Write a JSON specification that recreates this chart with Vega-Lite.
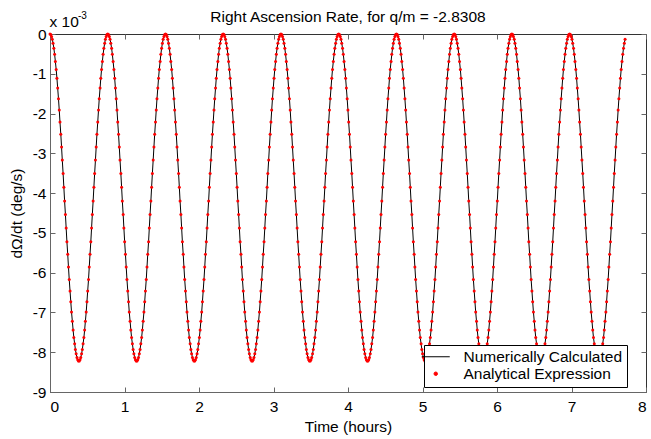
{
"$schema": "https://vega.github.io/schema/vega-lite/v6.json",
"width": 596,
"height": 358,
"autosize": {"type": "none"},
"padding": {"left": 50, "top": 34, "right": 5, "bottom": 47},
"background": "white",
"config": {
  "font": "Liberation Sans",
  "view": {"stroke": "#333333", "strokeWidth": 1},
  "axis": {"labelFont": "Liberation Sans", "labelFontSize": 15.5, "labelColor": "#000000", "titleFont": "Liberation Sans", "titleFontSize": 15.5, "titleFontWeight": "normal", "titleColor": "#000000", "domainColor": "#666666", "tickColor": "#666666", "tickSize": -5, "grid": false}
},
"title": {"text": "Right Ascension Rate, for q/m = -2.8308", "font": "Liberation Sans", "fontSize": 15.5, "fontWeight": "normal", "color": "#000000", "anchor": "middle", "baseline": "alphabetic", "offset": -26},
"resolve": {"axis": {"x": "independent", "y": "independent"}},
"data": {"values": [
{"t":0,"r":0},{"t":0.01,"r":-0.01},{"t":0.021,"r":-0.06},{"t":0.031,"r":-0.13},{"t":0.041,"r":-0.23},{"t":0.052,"r":-0.36},{"t":0.062,"r":-0.51},{"t":0.072,"r":-0.69},{"t":0.083,"r":-0.89},{"t":0.093,"r":-1.11},{"t":0.103,"r":-1.36},{"t":0.114,"r":-1.63},{"t":0.124,"r":-1.91},{"t":0.134,"r":-2.21},{"t":0.145,"r":-2.52},{"t":0.155,"r":-2.84},{"t":0.165,"r":-3.17},{"t":0.176,"r":-3.51},{"t":0.186,"r":-3.85},{"t":0.196,"r":-4.2},{"t":0.207,"r":-4.54},{"t":0.217,"r":-4.88},{"t":0.227,"r":-5.22},{"t":0.238,"r":-5.54},{"t":0.248,"r":-5.86},{"t":0.258,"r":-6.17},{"t":0.269,"r":-6.46},{"t":0.279,"r":-6.73},{"t":0.289,"r":-6.99},{"t":0.3,"r":-7.22},{"t":0.31,"r":-7.44},{"t":0.32,"r":-7.63},{"t":0.331,"r":-7.79},{"t":0.341,"r":-7.93},{"t":0.351,"r":-8.04},{"t":0.362,"r":-8.13},{"t":0.372,"r":-8.19},{"t":0.382,"r":-8.22},{"t":0.393,"r":-8.22},{"t":0.403,"r":-8.19},{"t":0.413,"r":-8.13},{"t":0.424,"r":-8.04},{"t":0.434,"r":-7.93},{"t":0.444,"r":-7.79},{"t":0.455,"r":-7.63},{"t":0.465,"r":-7.44},{"t":0.475,"r":-7.22},{"t":0.486,"r":-6.99},{"t":0.496,"r":-6.73},{"t":0.506,"r":-6.46},{"t":0.517,"r":-6.17},{"t":0.527,"r":-5.86},{"t":0.537,"r":-5.54},{"t":0.548,"r":-5.22},{"t":0.558,"r":-4.88},{"t":0.568,"r":-4.54},{"t":0.579,"r":-4.2},{"t":0.589,"r":-3.85},{"t":0.599,"r":-3.51},{"t":0.61,"r":-3.17},{"t":0.62,"r":-2.84},{"t":0.63,"r":-2.52},{"t":0.641,"r":-2.21},{"t":0.651,"r":-1.91},{"t":0.661,"r":-1.63},{"t":0.672,"r":-1.36},{"t":0.682,"r":-1.11},{"t":0.692,"r":-0.89},{"t":0.703,"r":-0.69},{"t":0.713,"r":-0.51},{"t":0.723,"r":-0.36},{"t":0.734,"r":-0.23},{"t":0.744,"r":-0.13},{"t":0.754,"r":-0.06},{"t":0.765,"r":-0.01},
{"t":0.775,"r":0},{"t":0.785,"r":-0.01},{"t":0.796,"r":-0.06},{"t":0.806,"r":-0.13},{"t":0.816,"r":-0.23},{"t":0.827,"r":-0.36},{"t":0.837,"r":-0.51},{"t":0.847,"r":-0.69},{"t":0.858,"r":-0.89},{"t":0.868,"r":-1.11},{"t":0.878,"r":-1.36},{"t":0.889,"r":-1.63},{"t":0.899,"r":-1.91},{"t":0.909,"r":-2.21},{"t":0.92,"r":-2.52},{"t":0.93,"r":-2.84},{"t":0.94,"r":-3.17},{"t":0.951,"r":-3.51},{"t":0.961,"r":-3.85},{"t":0.971,"r":-4.2},{"t":0.982,"r":-4.54},{"t":0.992,"r":-4.88},{"t":1.002,"r":-5.22},{"t":1.013,"r":-5.54},{"t":1.023,"r":-5.86},{"t":1.033,"r":-6.17},{"t":1.044,"r":-6.46},{"t":1.054,"r":-6.73},{"t":1.064,"r":-6.99},{"t":1.075,"r":-7.22},{"t":1.085,"r":-7.44},{"t":1.095,"r":-7.63},{"t":1.106,"r":-7.79},{"t":1.116,"r":-7.93},{"t":1.126,"r":-8.04},{"t":1.137,"r":-8.13},{"t":1.147,"r":-8.19},{"t":1.157,"r":-8.22},{"t":1.168,"r":-8.22},{"t":1.178,"r":-8.19},{"t":1.188,"r":-8.13},{"t":1.199,"r":-8.04},{"t":1.209,"r":-7.93},{"t":1.219,"r":-7.79},{"t":1.23,"r":-7.63},{"t":1.24,"r":-7.44},{"t":1.25,"r":-7.22},{"t":1.261,"r":-6.99},{"t":1.271,"r":-6.73},{"t":1.281,"r":-6.46},{"t":1.292,"r":-6.17},{"t":1.302,"r":-5.86},{"t":1.312,"r":-5.54},{"t":1.323,"r":-5.22},{"t":1.333,"r":-4.88},{"t":1.343,"r":-4.54},{"t":1.354,"r":-4.2},{"t":1.364,"r":-3.85},{"t":1.374,"r":-3.51},{"t":1.385,"r":-3.17},{"t":1.395,"r":-2.84},{"t":1.405,"r":-2.52},{"t":1.416,"r":-2.21},{"t":1.426,"r":-1.91},{"t":1.436,"r":-1.63},{"t":1.447,"r":-1.36},{"t":1.457,"r":-1.11},{"t":1.467,"r":-0.89},{"t":1.478,"r":-0.69},{"t":1.488,"r":-0.51},{"t":1.498,"r":-0.36},{"t":1.509,"r":-0.23},{"t":1.519,"r":-0.13},{"t":1.529,"r":-0.06},{"t":1.54,"r":-0.01},
{"t":1.55,"r":0},{"t":1.56,"r":-0.01},{"t":1.571,"r":-0.06},{"t":1.581,"r":-0.13},{"t":1.591,"r":-0.23},{"t":1.602,"r":-0.36},{"t":1.612,"r":-0.51},{"t":1.622,"r":-0.69},{"t":1.633,"r":-0.89},{"t":1.643,"r":-1.11},{"t":1.653,"r":-1.36},{"t":1.664,"r":-1.63},{"t":1.674,"r":-1.91},{"t":1.684,"r":-2.21},{"t":1.695,"r":-2.52},{"t":1.705,"r":-2.84},{"t":1.715,"r":-3.17},{"t":1.726,"r":-3.51},{"t":1.736,"r":-3.85},{"t":1.746,"r":-4.2},{"t":1.757,"r":-4.54},{"t":1.767,"r":-4.88},{"t":1.777,"r":-5.22},{"t":1.788,"r":-5.54},{"t":1.798,"r":-5.86},{"t":1.808,"r":-6.17},{"t":1.819,"r":-6.46},{"t":1.829,"r":-6.73},{"t":1.839,"r":-6.99},{"t":1.85,"r":-7.22},{"t":1.86,"r":-7.44},{"t":1.87,"r":-7.63},{"t":1.881,"r":-7.79},{"t":1.891,"r":-7.93},{"t":1.901,"r":-8.04},{"t":1.912,"r":-8.13},{"t":1.922,"r":-8.19},{"t":1.932,"r":-8.22},{"t":1.943,"r":-8.22},{"t":1.953,"r":-8.19},{"t":1.963,"r":-8.13},{"t":1.974,"r":-8.04},{"t":1.984,"r":-7.93},{"t":1.994,"r":-7.79},{"t":2.005,"r":-7.63},{"t":2.015,"r":-7.44},{"t":2.025,"r":-7.22},{"t":2.036,"r":-6.99},{"t":2.046,"r":-6.73},{"t":2.056,"r":-6.46},{"t":2.067,"r":-6.17},{"t":2.077,"r":-5.86},{"t":2.087,"r":-5.54},{"t":2.098,"r":-5.22},{"t":2.108,"r":-4.88},{"t":2.118,"r":-4.54},{"t":2.129,"r":-4.2},{"t":2.139,"r":-3.85},{"t":2.149,"r":-3.51},{"t":2.16,"r":-3.17},{"t":2.17,"r":-2.84},{"t":2.18,"r":-2.52},{"t":2.191,"r":-2.21},{"t":2.201,"r":-1.91},{"t":2.211,"r":-1.63},{"t":2.222,"r":-1.36},{"t":2.232,"r":-1.11},{"t":2.242,"r":-0.89},{"t":2.253,"r":-0.69},{"t":2.263,"r":-0.51},{"t":2.273,"r":-0.36},{"t":2.284,"r":-0.23},{"t":2.294,"r":-0.13},{"t":2.304,"r":-0.06},{"t":2.315,"r":-0.01},
{"t":2.325,"r":0},{"t":2.335,"r":-0.01},{"t":2.346,"r":-0.06},{"t":2.356,"r":-0.13},{"t":2.366,"r":-0.23},{"t":2.377,"r":-0.36},{"t":2.387,"r":-0.51},{"t":2.397,"r":-0.69},{"t":2.408,"r":-0.89},{"t":2.418,"r":-1.11},{"t":2.428,"r":-1.36},{"t":2.439,"r":-1.63},{"t":2.449,"r":-1.91},{"t":2.459,"r":-2.21},{"t":2.47,"r":-2.52},{"t":2.48,"r":-2.84},{"t":2.49,"r":-3.17},{"t":2.501,"r":-3.51},{"t":2.511,"r":-3.85},{"t":2.521,"r":-4.2},{"t":2.532,"r":-4.54},{"t":2.542,"r":-4.88},{"t":2.552,"r":-5.22},{"t":2.563,"r":-5.54},{"t":2.573,"r":-5.86},{"t":2.583,"r":-6.17},{"t":2.594,"r":-6.46},{"t":2.604,"r":-6.73},{"t":2.614,"r":-6.99},{"t":2.625,"r":-7.22},{"t":2.635,"r":-7.44},{"t":2.645,"r":-7.63},{"t":2.656,"r":-7.79},{"t":2.666,"r":-7.93},{"t":2.676,"r":-8.04},{"t":2.687,"r":-8.13},{"t":2.697,"r":-8.19},{"t":2.707,"r":-8.22},{"t":2.718,"r":-8.22},{"t":2.728,"r":-8.19},{"t":2.738,"r":-8.13},{"t":2.749,"r":-8.04},{"t":2.759,"r":-7.93},{"t":2.769,"r":-7.79},{"t":2.78,"r":-7.63},{"t":2.79,"r":-7.44},{"t":2.8,"r":-7.22},{"t":2.811,"r":-6.99},{"t":2.821,"r":-6.73},{"t":2.831,"r":-6.46},{"t":2.842,"r":-6.17},{"t":2.852,"r":-5.86},{"t":2.862,"r":-5.54},{"t":2.873,"r":-5.22},{"t":2.883,"r":-4.88},{"t":2.893,"r":-4.54},{"t":2.904,"r":-4.2},{"t":2.914,"r":-3.85},{"t":2.924,"r":-3.51},{"t":2.935,"r":-3.17},{"t":2.945,"r":-2.84},{"t":2.955,"r":-2.52},{"t":2.966,"r":-2.21},{"t":2.976,"r":-1.91},{"t":2.986,"r":-1.63},{"t":2.997,"r":-1.36},{"t":3.007,"r":-1.11},{"t":3.017,"r":-0.89},{"t":3.028,"r":-0.69},{"t":3.038,"r":-0.51},{"t":3.048,"r":-0.36},{"t":3.059,"r":-0.23},{"t":3.069,"r":-0.13},{"t":3.079,"r":-0.06},{"t":3.09,"r":-0.01},
{"t":3.1,"r":0},{"t":3.11,"r":-0.01},{"t":3.121,"r":-0.06},{"t":3.131,"r":-0.13},{"t":3.141,"r":-0.23},{"t":3.152,"r":-0.36},{"t":3.162,"r":-0.51},{"t":3.172,"r":-0.69},{"t":3.183,"r":-0.89},{"t":3.193,"r":-1.11},{"t":3.203,"r":-1.36},{"t":3.214,"r":-1.63},{"t":3.224,"r":-1.91},{"t":3.234,"r":-2.21},{"t":3.245,"r":-2.52},{"t":3.255,"r":-2.84},{"t":3.265,"r":-3.17},{"t":3.276,"r":-3.51},{"t":3.286,"r":-3.85},{"t":3.296,"r":-4.2},{"t":3.307,"r":-4.54},{"t":3.317,"r":-4.88},{"t":3.327,"r":-5.22},{"t":3.338,"r":-5.54},{"t":3.348,"r":-5.86},{"t":3.358,"r":-6.17},{"t":3.369,"r":-6.46},{"t":3.379,"r":-6.73},{"t":3.389,"r":-6.99},{"t":3.4,"r":-7.22},{"t":3.41,"r":-7.44},{"t":3.42,"r":-7.63},{"t":3.431,"r":-7.79},{"t":3.441,"r":-7.93},{"t":3.451,"r":-8.04},{"t":3.462,"r":-8.13},{"t":3.472,"r":-8.19},{"t":3.482,"r":-8.22},{"t":3.493,"r":-8.22},{"t":3.503,"r":-8.19},{"t":3.513,"r":-8.13},{"t":3.524,"r":-8.04},{"t":3.534,"r":-7.93},{"t":3.544,"r":-7.79},{"t":3.555,"r":-7.63},{"t":3.565,"r":-7.44},{"t":3.575,"r":-7.22},{"t":3.586,"r":-6.99},{"t":3.596,"r":-6.73},{"t":3.606,"r":-6.46},{"t":3.617,"r":-6.17},{"t":3.627,"r":-5.86},{"t":3.637,"r":-5.54},{"t":3.648,"r":-5.22},{"t":3.658,"r":-4.88},{"t":3.668,"r":-4.54},{"t":3.679,"r":-4.2},{"t":3.689,"r":-3.85},{"t":3.699,"r":-3.51},{"t":3.71,"r":-3.17},{"t":3.72,"r":-2.84},{"t":3.73,"r":-2.52},{"t":3.741,"r":-2.21},{"t":3.751,"r":-1.91},{"t":3.761,"r":-1.63},{"t":3.772,"r":-1.36},{"t":3.782,"r":-1.11},{"t":3.792,"r":-0.89},{"t":3.803,"r":-0.69},{"t":3.813,"r":-0.51},{"t":3.823,"r":-0.36},{"t":3.834,"r":-0.23},{"t":3.844,"r":-0.13},{"t":3.854,"r":-0.06},{"t":3.865,"r":-0.01},
{"t":3.875,"r":0},{"t":3.885,"r":-0.01},{"t":3.896,"r":-0.06},{"t":3.906,"r":-0.13},{"t":3.916,"r":-0.23},{"t":3.927,"r":-0.36},{"t":3.937,"r":-0.51},{"t":3.947,"r":-0.69},{"t":3.958,"r":-0.89},{"t":3.968,"r":-1.11},{"t":3.978,"r":-1.36},{"t":3.989,"r":-1.63},{"t":3.999,"r":-1.91},{"t":4.009,"r":-2.21},{"t":4.02,"r":-2.52},{"t":4.03,"r":-2.84},{"t":4.04,"r":-3.17},{"t":4.051,"r":-3.51},{"t":4.061,"r":-3.85},{"t":4.071,"r":-4.2},{"t":4.082,"r":-4.54},{"t":4.092,"r":-4.88},{"t":4.102,"r":-5.22},{"t":4.113,"r":-5.54},{"t":4.123,"r":-5.86},{"t":4.133,"r":-6.17},{"t":4.144,"r":-6.46},{"t":4.154,"r":-6.73},{"t":4.164,"r":-6.99},{"t":4.175,"r":-7.22},{"t":4.185,"r":-7.44},{"t":4.195,"r":-7.63},{"t":4.206,"r":-7.79},{"t":4.216,"r":-7.93},{"t":4.226,"r":-8.04},{"t":4.237,"r":-8.13},{"t":4.247,"r":-8.19},{"t":4.257,"r":-8.22},{"t":4.268,"r":-8.22},{"t":4.278,"r":-8.19},{"t":4.288,"r":-8.13},{"t":4.299,"r":-8.04},{"t":4.309,"r":-7.93},{"t":4.319,"r":-7.79},{"t":4.33,"r":-7.63},{"t":4.34,"r":-7.44},{"t":4.35,"r":-7.22},{"t":4.361,"r":-6.99},{"t":4.371,"r":-6.73},{"t":4.381,"r":-6.46},{"t":4.392,"r":-6.17},{"t":4.402,"r":-5.86},{"t":4.412,"r":-5.54},{"t":4.423,"r":-5.22},{"t":4.433,"r":-4.88},{"t":4.443,"r":-4.54},{"t":4.454,"r":-4.2},{"t":4.464,"r":-3.85},{"t":4.474,"r":-3.51},{"t":4.485,"r":-3.17},{"t":4.495,"r":-2.84},{"t":4.505,"r":-2.52},{"t":4.516,"r":-2.21},{"t":4.526,"r":-1.91},{"t":4.536,"r":-1.63},{"t":4.547,"r":-1.36},{"t":4.557,"r":-1.11},{"t":4.567,"r":-0.89},{"t":4.578,"r":-0.69},{"t":4.588,"r":-0.51},{"t":4.598,"r":-0.36},{"t":4.609,"r":-0.23},{"t":4.619,"r":-0.13},{"t":4.629,"r":-0.06},{"t":4.64,"r":-0.01},
{"t":4.65,"r":0},{"t":4.66,"r":-0.01},{"t":4.671,"r":-0.06},{"t":4.681,"r":-0.13},{"t":4.691,"r":-0.23},{"t":4.702,"r":-0.36},{"t":4.712,"r":-0.51},{"t":4.722,"r":-0.69},{"t":4.733,"r":-0.89},{"t":4.743,"r":-1.11},{"t":4.753,"r":-1.36},{"t":4.764,"r":-1.63},{"t":4.774,"r":-1.91},{"t":4.784,"r":-2.21},{"t":4.795,"r":-2.52},{"t":4.805,"r":-2.84},{"t":4.815,"r":-3.17},{"t":4.826,"r":-3.51},{"t":4.836,"r":-3.85},{"t":4.846,"r":-4.2},{"t":4.857,"r":-4.54},{"t":4.867,"r":-4.88},{"t":4.877,"r":-5.22},{"t":4.888,"r":-5.54},{"t":4.898,"r":-5.86},{"t":4.908,"r":-6.17},{"t":4.919,"r":-6.46},{"t":4.929,"r":-6.73},{"t":4.939,"r":-6.99},{"t":4.95,"r":-7.22},{"t":4.96,"r":-7.44},{"t":4.97,"r":-7.63},{"t":4.981,"r":-7.79},{"t":4.991,"r":-7.93},{"t":5.001,"r":-8.04},{"t":5.012,"r":-8.13},{"t":5.022,"r":-8.19},{"t":5.032,"r":-8.22},{"t":5.043,"r":-8.22},{"t":5.053,"r":-8.19},{"t":5.063,"r":-8.13},{"t":5.074,"r":-8.04},{"t":5.084,"r":-7.93},{"t":5.094,"r":-7.79},{"t":5.105,"r":-7.63},{"t":5.115,"r":-7.44},{"t":5.125,"r":-7.22},{"t":5.136,"r":-6.99},{"t":5.146,"r":-6.73},{"t":5.156,"r":-6.46},{"t":5.167,"r":-6.17},{"t":5.177,"r":-5.86},{"t":5.187,"r":-5.54},{"t":5.198,"r":-5.22},{"t":5.208,"r":-4.88},{"t":5.218,"r":-4.54},{"t":5.229,"r":-4.2},{"t":5.239,"r":-3.85},{"t":5.249,"r":-3.51},{"t":5.26,"r":-3.17},{"t":5.27,"r":-2.84},{"t":5.28,"r":-2.52},{"t":5.291,"r":-2.21},{"t":5.301,"r":-1.91},{"t":5.311,"r":-1.63},{"t":5.322,"r":-1.36},{"t":5.332,"r":-1.11},{"t":5.342,"r":-0.89},{"t":5.353,"r":-0.69},{"t":5.363,"r":-0.51},{"t":5.373,"r":-0.36},{"t":5.384,"r":-0.23},{"t":5.394,"r":-0.13},{"t":5.404,"r":-0.06},{"t":5.415,"r":-0.01},
{"t":5.425,"r":0},{"t":5.435,"r":-0.01},{"t":5.446,"r":-0.06},{"t":5.456,"r":-0.13},{"t":5.466,"r":-0.23},{"t":5.477,"r":-0.36},{"t":5.487,"r":-0.51},{"t":5.497,"r":-0.69},{"t":5.508,"r":-0.89},{"t":5.518,"r":-1.11},{"t":5.528,"r":-1.36},{"t":5.539,"r":-1.63},{"t":5.549,"r":-1.91},{"t":5.559,"r":-2.21},{"t":5.57,"r":-2.52},{"t":5.58,"r":-2.84},{"t":5.59,"r":-3.17},{"t":5.601,"r":-3.51},{"t":5.611,"r":-3.85},{"t":5.621,"r":-4.2},{"t":5.632,"r":-4.54},{"t":5.642,"r":-4.88},{"t":5.652,"r":-5.22},{"t":5.663,"r":-5.54},{"t":5.673,"r":-5.86},{"t":5.683,"r":-6.17},{"t":5.694,"r":-6.46},{"t":5.704,"r":-6.73},{"t":5.714,"r":-6.99},{"t":5.725,"r":-7.22},{"t":5.735,"r":-7.44},{"t":5.745,"r":-7.63},{"t":5.756,"r":-7.79},{"t":5.766,"r":-7.93},{"t":5.776,"r":-8.04},{"t":5.787,"r":-8.13},{"t":5.797,"r":-8.19},{"t":5.807,"r":-8.22},{"t":5.818,"r":-8.22},{"t":5.828,"r":-8.19},{"t":5.838,"r":-8.13},{"t":5.849,"r":-8.04},{"t":5.859,"r":-7.93},{"t":5.869,"r":-7.79},{"t":5.88,"r":-7.63},{"t":5.89,"r":-7.44},{"t":5.9,"r":-7.22},{"t":5.911,"r":-6.99},{"t":5.921,"r":-6.73},{"t":5.931,"r":-6.46},{"t":5.942,"r":-6.17},{"t":5.952,"r":-5.86},{"t":5.962,"r":-5.54},{"t":5.973,"r":-5.22},{"t":5.983,"r":-4.88},{"t":5.993,"r":-4.54},{"t":6.004,"r":-4.2},{"t":6.014,"r":-3.85},{"t":6.024,"r":-3.51},{"t":6.035,"r":-3.17},{"t":6.045,"r":-2.84},{"t":6.055,"r":-2.52},{"t":6.066,"r":-2.21},{"t":6.076,"r":-1.91},{"t":6.086,"r":-1.63},{"t":6.097,"r":-1.36},{"t":6.107,"r":-1.11},{"t":6.117,"r":-0.89},{"t":6.128,"r":-0.69},{"t":6.138,"r":-0.51},{"t":6.148,"r":-0.36},{"t":6.159,"r":-0.23},{"t":6.169,"r":-0.13},{"t":6.179,"r":-0.06},{"t":6.19,"r":-0.01},
{"t":6.2,"r":0},{"t":6.21,"r":-0.01},{"t":6.221,"r":-0.06},{"t":6.231,"r":-0.13},{"t":6.241,"r":-0.23},{"t":6.252,"r":-0.36},{"t":6.262,"r":-0.51},{"t":6.272,"r":-0.69},{"t":6.283,"r":-0.89},{"t":6.293,"r":-1.11},{"t":6.303,"r":-1.36},{"t":6.314,"r":-1.63},{"t":6.324,"r":-1.91},{"t":6.334,"r":-2.21},{"t":6.345,"r":-2.52},{"t":6.355,"r":-2.84},{"t":6.365,"r":-3.17},{"t":6.376,"r":-3.51},{"t":6.386,"r":-3.85},{"t":6.396,"r":-4.2},{"t":6.407,"r":-4.54},{"t":6.417,"r":-4.88},{"t":6.427,"r":-5.22},{"t":6.438,"r":-5.54},{"t":6.448,"r":-5.86},{"t":6.458,"r":-6.17},{"t":6.469,"r":-6.46},{"t":6.479,"r":-6.73},{"t":6.489,"r":-6.99},{"t":6.5,"r":-7.22},{"t":6.51,"r":-7.44},{"t":6.52,"r":-7.63},{"t":6.531,"r":-7.79},{"t":6.541,"r":-7.93},{"t":6.551,"r":-8.04},{"t":6.562,"r":-8.13},{"t":6.572,"r":-8.19},{"t":6.582,"r":-8.22},{"t":6.593,"r":-8.22},{"t":6.603,"r":-8.19},{"t":6.613,"r":-8.13},{"t":6.624,"r":-8.04},{"t":6.634,"r":-7.93},{"t":6.644,"r":-7.79},{"t":6.655,"r":-7.63},{"t":6.665,"r":-7.44},{"t":6.675,"r":-7.22},{"t":6.686,"r":-6.99},{"t":6.696,"r":-6.73},{"t":6.706,"r":-6.46},{"t":6.717,"r":-6.17},{"t":6.727,"r":-5.86},{"t":6.737,"r":-5.54},{"t":6.748,"r":-5.22},{"t":6.758,"r":-4.88},{"t":6.768,"r":-4.54},{"t":6.779,"r":-4.2},{"t":6.789,"r":-3.85},{"t":6.799,"r":-3.51},{"t":6.81,"r":-3.17},{"t":6.82,"r":-2.84},{"t":6.83,"r":-2.52},{"t":6.841,"r":-2.21},{"t":6.851,"r":-1.91},{"t":6.861,"r":-1.63},{"t":6.872,"r":-1.36},{"t":6.882,"r":-1.11},{"t":6.892,"r":-0.89},{"t":6.903,"r":-0.69},{"t":6.913,"r":-0.51},{"t":6.923,"r":-0.36},{"t":6.934,"r":-0.23},{"t":6.944,"r":-0.13},{"t":6.954,"r":-0.06},{"t":6.965,"r":-0.01},
{"t":6.975,"r":0},{"t":6.985,"r":-0.01},{"t":6.996,"r":-0.06},{"t":7.006,"r":-0.13},{"t":7.016,"r":-0.23},{"t":7.027,"r":-0.36},{"t":7.037,"r":-0.51},{"t":7.047,"r":-0.69},{"t":7.058,"r":-0.89},{"t":7.068,"r":-1.11},{"t":7.078,"r":-1.36},{"t":7.089,"r":-1.63},{"t":7.099,"r":-1.91},{"t":7.109,"r":-2.21},{"t":7.12,"r":-2.52},{"t":7.13,"r":-2.84},{"t":7.14,"r":-3.17},{"t":7.151,"r":-3.51},{"t":7.161,"r":-3.85},{"t":7.171,"r":-4.2},{"t":7.182,"r":-4.54},{"t":7.192,"r":-4.88},{"t":7.202,"r":-5.22},{"t":7.213,"r":-5.54},{"t":7.223,"r":-5.86},{"t":7.233,"r":-6.17},{"t":7.244,"r":-6.46},{"t":7.254,"r":-6.73},{"t":7.264,"r":-6.99},{"t":7.275,"r":-7.22},{"t":7.285,"r":-7.44},{"t":7.295,"r":-7.63},{"t":7.306,"r":-7.79},{"t":7.316,"r":-7.93},{"t":7.326,"r":-8.04},{"t":7.337,"r":-8.13},{"t":7.347,"r":-8.19},{"t":7.357,"r":-8.22},{"t":7.368,"r":-8.22},{"t":7.378,"r":-8.19},{"t":7.388,"r":-8.13},{"t":7.399,"r":-8.04},{"t":7.409,"r":-7.93},{"t":7.419,"r":-7.79},{"t":7.43,"r":-7.63},{"t":7.44,"r":-7.44},{"t":7.45,"r":-7.22},{"t":7.461,"r":-6.99},{"t":7.471,"r":-6.73},{"t":7.481,"r":-6.46},{"t":7.492,"r":-6.17},{"t":7.502,"r":-5.86},{"t":7.512,"r":-5.54},{"t":7.523,"r":-5.22},{"t":7.533,"r":-4.88},{"t":7.543,"r":-4.54},{"t":7.554,"r":-4.2},{"t":7.564,"r":-3.85},{"t":7.574,"r":-3.51},{"t":7.585,"r":-3.17},{"t":7.595,"r":-2.84},{"t":7.605,"r":-2.52},{"t":7.616,"r":-2.21},{"t":7.626,"r":-1.91},{"t":7.636,"r":-1.63},{"t":7.647,"r":-1.36},{"t":7.657,"r":-1.11},{"t":7.667,"r":-0.89},{"t":7.678,"r":-0.69},{"t":7.688,"r":-0.51},{"t":7.698,"r":-0.36},{"t":7.709,"r":-0.23},{"t":7.719,"r":-0.13}
]},
"layer": [
  {
    "mark": {"type": "line", "strokeWidth": 1, "interpolate": "linear"},
    "encoding": {
      "x": {"field": "t", "type": "quantitative", "scale": {"domain": [0, 8], "nice": false, "zero": false}, "axis": {"orient": "bottom", "values": [0,1,2,3,4,5,6,7,8], "labelPadding": 12, "labelExpr": "datum.value + ''", "title": "Time (hours)", "titlePadding": 5}},
      "y": {"field": "r", "type": "quantitative", "scale": {"domain": [-9, 0], "nice": false, "zero": false}, "axis": {"orient": "left", "values": [-9,-8,-7,-6,-5,-4,-3,-2,-1,0], "labelPadding": 9, "labelExpr": "datum.value + ''", "title": "dΩ/dt (deg/s)", "titlePadding": 8}},
      "color": {"datum": "Numerically Calculated", "type": "nominal", "scale": {"domain": ["Numerically Calculated", "Analytical Expression"], "range": ["#000000", "#ff0000"]},
        "legend": {"title": null, "orient": "none", "legendX": 374, "legendY": 311, "fillColor": "#ffffff", "strokeColor": "#000000", "padding": 4, "labelFont": "Liberation Sans", "labelFontSize": 15.5, "labelColor": "#000000", "symbolSize": 100, "labelOffset": 20, "rowPadding": 0,
          "encode": {"symbols": {"update": {
            "shape": {"signal": "datum.value === 'Numerically Calculated' ? 'M-2.8,0H2.8' : 'circle'"},
            "size": {"signal": "datum.value === 'Numerically Calculated' ? 100 : 12"},
            "fill": {"signal": "datum.value === 'Numerically Calculated' ? 'transparent' : '#ff0000'"},
            "stroke": {"signal": "datum.value === 'Numerically Calculated' ? '#000000' : 'transparent'"},
            "strokeWidth": {"value": 1},
            "opacity": {"value": 1}}}}}}
    }
  },
  {
    "mark": {"type": "point", "filled": true, "shape": "circle", "size": 9, "opacity": 1, "strokeWidth": 0},
    "encoding": {
      "x": {"field": "t", "type": "quantitative", "axis": {"orient": "top", "values": [0,1,2,3,4,5,6,7,8], "labels": false, "domain": false, "title": null}},
      "y": {"field": "r", "type": "quantitative", "axis": {"orient": "right", "values": [-9,-8,-7,-6,-5,-4,-3,-2,-1,0], "labels": false, "domain": false, "title": null}},
      "color": {"datum": "Analytical Expression", "type": "nominal"}
    }
  },
  {
    "data": {"values": [{"label": "x 10"}]},
    "mark": {"type": "text", "align": "left", "baseline": "alphabetic", "font": "Liberation Sans", "fontSize": 15.5, "color": "#000000", "dx": -0.5, "dy": -7},
    "encoding": {
      "x": {"datum": 0, "type": "quantitative", "axis": null},
      "y": {"datum": 0, "type": "quantitative", "axis": null},
      "text": {"field": "label"}
    }
  },
  {
    "data": {"values": [{"label": "-3"}]},
    "mark": {"type": "text", "align": "left", "baseline": "alphabetic", "font": "Liberation Sans", "fontSize": 10, "color": "#000000", "dx": 28, "dy": -15},
    "encoding": {
      "x": {"datum": 0, "type": "quantitative", "axis": null},
      "y": {"datum": 0, "type": "quantitative", "axis": null},
      "text": {"field": "label"}
    }
  }
]
}
